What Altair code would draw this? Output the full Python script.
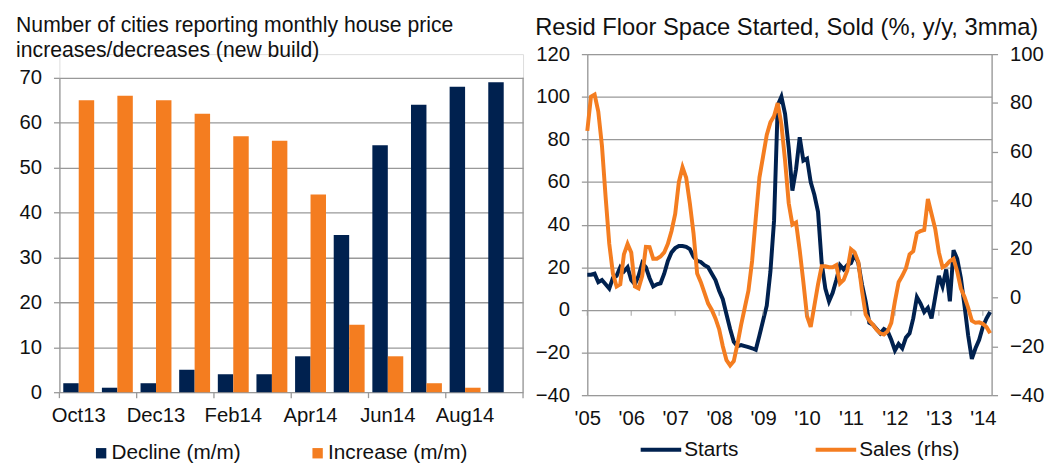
import altair as alt
import pandas as pd

# ---------------- Left panel data ----------------
months = ["Oct13", "Nov13", "Dec13", "Jan14", "Feb14", "Mar14",
          "Apr14", "May14", "Jun14", "Jul14", "Aug14", "Sep14"]
x_label_months = ["Oct13", "Dec13", "Feb14", "Apr14", "Jun14", "Aug14"]
decline = [2, 1, 2, 5, 4, 4, 8, 35, 55, 64, 68, 69]
increase = [65, 66, 65, 62, 57, 56, 44, 15, 8, 2, 1, 0]
bar_series = ["Decline (m/m)", "Increase (m/m)"]
tick_bounds = [0, 2, 4, 6, 8, 10, 12]
edge_bound = [12]

# ---------------- Right panel data ----------------
start_year = 2005
starts = [16.5, 16.5, 17, 13, 14, 12, 10, 15, 16, 20, 18, 20,
          14, 12, 16, 22, 20, 15, 11, 12, 12.5, 17, 23, 27,
          29, 30, 30, 29.6, 28.5, 25, 23, 22.5, 21, 20, 17, 14,
          9, 5, -2, -9, -15, -17, -16.5, -17, -17.5, -18, -18.7, -12,
          -5, 2, 18, 42, 96, 100, 92, 76, 56, 66, 81, 70,
          71, 60, 54, 46, 22, 10, 4, 8, 14, 21, 19, 21,
          22, 26, 22, 12, 4, -6, -7, -9, -11, -9, -10, -14,
          -19, -16, -18, -13, -11, -4, 6, 3, -1, 1, -4, 6,
          16, 11, 19, 4, 28, 24, 15, 2, -12, -23, -18, -14,
          -8, -4, -1]
sales = [68.5, 82.5, 83.4, 76.4, 62.4, 41.4, 22.1, 9.9, 4.6, 5.5, 17.8, 22.1,
         18.6, 4.6, 3.8, 9.0, 20.9, 20.8, 16.0, 16.0, 16.9, 18.6, 22.1, 27.4,
         34.4, 47.5, 53.6, 49.3, 38.8, 26.5, 9.9, 6.4, 2.0, -2.4, -5.0, -8.5,
         -12.9, -19.9, -25.6, -27.8, -26.0, -19.0, -11.1, -4.1, 2.9, 15.1, 32.6, 49.3,
         58.0, 66.8, 72.0, 74.6, 79.9, 71.1, 56.3, 38.8, 30.0, 30.9, 19.5, 6.4,
         -7.6, -12.0, -3.3, 5.5, 12.9, 12.9, 12.5, 12.5, 13.4, 5.9, 7.3, 11.2,
         19.9, 18.6, 14.7, 2.9, -6.8, -9.4, -11.1, -13.1, -14.6, -15.1, -13.8, -10.3,
         -1.5, 6.4, 9.0, 12.1, 17.8, 19.1, 26.5, 27.4, 27.8, 40.5, 34.4, 28.3,
         18.6, 12.5, 13.4, 15.1, 16.0, 10.8, 3.8, 0.3, -4.1, -9.4, -10.3, -10.1,
         -10.7, -12.0, -14.6]
line_series = ["Starts", "Sales (rhs)"]
year_ticks = list(range(2005, 2015))

# ---------------- Styles ----------------
NAVY = "#00214F"
ORANGE = "#F47D20"
GRID = "#999999"
TEXT = "#111111"
FONT = "Liberation Sans"

LW, LH, LPAD = 469, 318, 24      # left plot: value area height + blank band on top
LTOT = LH + LPAD
RW, RH = 409, 345

axis_text = dict(labelFont=FONT, labelFontSize=20.5, labelColor=TEXT, title=None)
y_axis_style = dict(grid=True, gridColor=GRID, gridWidth=1.3, domainColor=GRID, domainWidth=1.3,
                    tickColor=GRID, tickWidth=1.3, tickSize=6, labelPadding=12)

# ---------------- Left panel ----------------
bar_df = pd.DataFrame({
    "month": months * 2,
    "series": [bar_series[0]] * len(months) + [bar_series[1]] * len(months),
    "value": decline + increase,
})

bars = alt.Chart(bar_df).mark_bar().encode(
    x=alt.X("month:N", sort=months,
            scale=alt.Scale(paddingInner=0.2, paddingOuter=0.1),
            axis=alt.Axis(values=x_label_months, labelAngle=0, ticks=False, domain=False,
                          grid=False, labelPadding=14, **axis_text)),
    xOffset=alt.XOffset("series:N", sort=bar_series,
                        scale=alt.Scale(paddingInner=0, paddingOuter=0)),
    y=alt.Y("value:Q", scale=alt.Scale(domain=[0, 70], range=[LTOT, LPAD], nice=False),
            axis=alt.Axis(values=list(range(0, 71, 10)), **y_axis_style, **axis_text)),
    color=alt.Color("series:N", sort=bar_series,
                    scale=alt.Scale(domain=bar_series, range=[NAVY, ORANGE]),
                    legend=alt.Legend(orient="none", legendX=31.7, legendY=393,
                                      direction="horizontal", columns=2, title=None,
                                      symbolType="square", symbolSize=110, symbolStrokeWidth=0,
                                      labelFont=FONT, labelFontSize=21, labelColor=TEXT,
                                      labelOffset=0, columnPadding=67, padding=0)),
)

bx_scale = alt.Scale(domain=[0, 12], nice=False, zero=False)
left_ticks = alt.Chart(pd.DataFrame({"b": tick_bounds})).mark_rule(
    color=GRID, strokeWidth=1.3).encode(
    x=alt.X("b:Q", scale=bx_scale, axis=None),
    y=alt.value(LTOT), y2=alt.value(LTOT + 6))
left_edge = alt.Chart(pd.DataFrame({"b": edge_bound})).mark_rule(
    color=GRID, strokeWidth=1.3).encode(
    x=alt.X("b:Q", scale=bx_scale, axis=None),
    y=alt.value(LPAD), y2=alt.value(LTOT))

left = alt.layer(bars, left_ticks, left_edge).resolve_scale(x="independent").properties(
    width=LW, height=LTOT,
    title=alt.TitleParams(
        text=["Number of cities reporting monthly house price",
              "increases/decreases (new build)"],
        anchor="start", frame="bounds", fontSize=21.4, font=FONT, fontWeight="normal",
        color=TEXT, lineHeight=25, offset=-7, dx=-3))

# ---------------- Right panel ----------------
n = len(starts)
t = [start_year + i / 12 for i in range(n)]
line_df = pd.DataFrame({
    "t": t * 2,
    "series": [line_series[0]] * n + [line_series[1]] * n,
    "value": starts + sales,
})

xscale = alt.Scale(domain=[2005, 2014.2], nice=False, zero=False)
color_scale = alt.Scale(domain=line_series, range=[NAVY, ORANGE])
line_legend = alt.Legend(orient="none", legendX=52, legendY=377.5, direction="horizontal",
                         columns=2, title=None, symbolType="stroke", symbolSize=1681,
                         symbolStrokeWidth=4, labelFont=FONT, labelFontSize=21,
                         labelColor=TEXT, labelOffset=1, columnPadding=70, padding=0)

starts_line = alt.Chart(line_df).transform_filter(
    alt.datum.series == "Starts").mark_line(strokeWidth=4).encode(
    x=alt.X("t:Q", scale=xscale,
            axis=alt.Axis(values=year_ticks,
                          labelExpr="\"'\" + substring(toString(datum.value), 2, 4)",
                          ticks=False, domain=False, grid=False, labelFlush=False,
                          labelPadding=14, **axis_text)),
    y=alt.Y("value:Q", scale=alt.Scale(domain=[-40, 120], nice=False),
            axis=alt.Axis(values=list(range(-40, 121, 20)), **y_axis_style, **axis_text)),
    color=alt.Color("series:N", scale=color_scale, legend=line_legend),
)

sales_line = alt.Chart(line_df).transform_filter(
    alt.datum.series == "Sales (rhs)").mark_line(strokeWidth=4).encode(
    x=alt.X("t:Q", scale=xscale),
    y=alt.Y("value:Q", scale=alt.Scale(domain=[-40, 100], nice=False),
            axis=alt.Axis(orient="right", values=list(range(-40, 101, 20)), grid=False,
                          domainColor=GRID, domainWidth=1.3, tickColor=GRID, tickWidth=1.3,
                          tickSize=6, labelPadding=12, **axis_text)),
    color=alt.Color("series:N", scale=color_scale, legend=line_legend),
)

xt_df = pd.DataFrame({"t": year_ticks, "z": [0] * len(year_ticks)})
x_ticks = alt.Chart(xt_df).mark_tick(orient="vertical", size=6, thickness=1.3,
                                     color=GRID, yOffset=3).encode(
    x=alt.X("t:Q", scale=xscale),
    y=alt.Y("z:Q", scale=alt.Scale(domain=[-40, 120], nice=False), axis=None),
)

right = alt.layer(starts_line, sales_line, x_ticks).resolve_scale(y="independent").properties(
    width=RW, height=RH,
    title=alt.TitleParams(
        text="Resid Floor Space Started, Sold (%, y/y, 3mma)",
        anchor="start", frame="bounds", fontSize=24, font=FONT, fontWeight="normal",
        color=TEXT, lineHeight=25, offset=4))

chart = alt.hconcat(left, right, spacing=9).resolve_scale(
    color="independent").resolve_legend(color="independent").properties(
    padding={"left": 7, "top": 4, "right": 0, "bottom": 0}
).configure_view(stroke=None).configure(font=FONT, background="white")

chart.save("out.html", embed_options={"renderer": "svg", "actions": False})
